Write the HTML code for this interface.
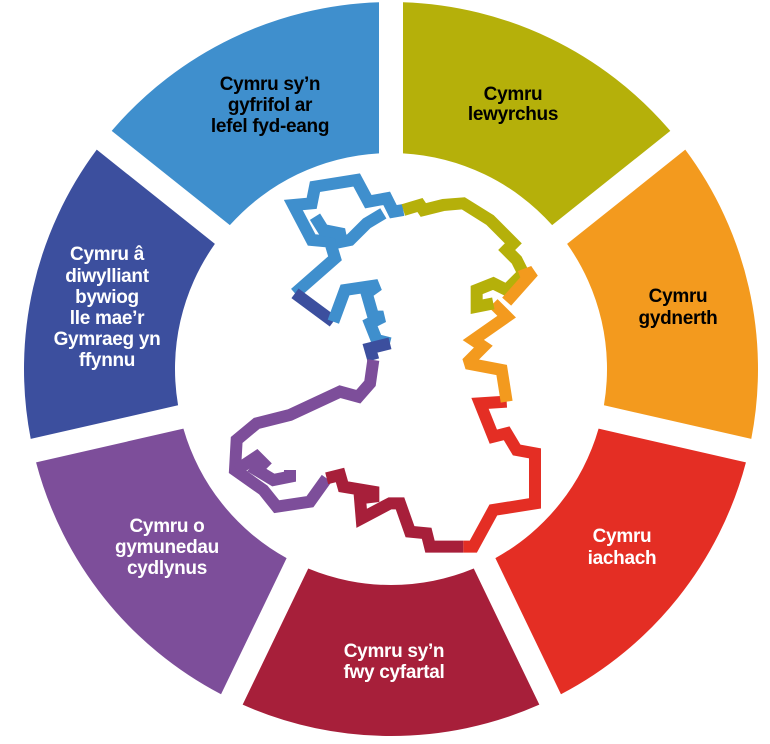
<!DOCTYPE html>
<html><head><meta charset="utf-8"><style>
html,body{margin:0;padding:0;background:#fff;width:770px;height:744px;overflow:hidden}
svg text{font-family:"Liberation Sans Narrow","Liberation Sans",sans-serif;font-weight:bold;font-size:19px;text-anchor:middle;letter-spacing:-0.3px}
</style></head><body>
<svg id="s" width="770" height="744" viewBox="0 0 770 744" xmlns="http://www.w3.org/2000/svg">
<g id="ring"></g>
<g transform="translate(230,170) scale(0.33333)" fill="none" stroke-width="36" stroke-linejoin="miter" stroke-miterlimit="2" stroke-linecap="butt">
<polyline stroke="#3f8fcd" points="520,120 490,125 470,85 415,95 380,30 255,50 245,100 190,105 245,210 300,215 315,265 195,370"/>
<polyline stroke="#3f8fcd" points="255,140 280,180 330,190 335,215 360,210 410,160 460,130"/>
<polyline stroke="#3c4f9e" points="195,370 310,455"/>
<polyline stroke="#3f8fcd" points="310,455 345,360 445,345 410,370 430,440 460,440 420,460 440,510 480,520"/>
<polyline stroke="#3c4f9e" points="480,520 420,535 430,570"/>
<polyline stroke="#7d4e9a" points="430,570 420,640 385,680 330,665 180,735 80,760 20,810 15,900 100,960 140,1010 240,995 290,925"/>
<polyline stroke="#7d4e9a" points="20,900 80,860 100,880 80,900 130,930 180,920 180,900"/>
<polyline stroke="#a71f3a" points="290,925 330,915 340,950 430,965 430,980 390,985 395,1045 480,1000 510,1000 540,1085 590,1090 600,1130 700,1130"/>
<polyline stroke="#e42e24" points="700,1130 730,1130 790,1020 915,1000 915,850 860,840 830,790 790,800 750,700 830,695"/>
<polyline stroke="#f39a1e" points="830,695 815,600 710,580 760,530 730,510 830,440 790,400"/>
<polyline stroke="#b5b00a" points="790,400 740,410 740,360 790,340 830,360 880,310 860,270 830,240 850,220 780,150 700,100 640,105 580,120 570,105 520,120"/>
<polyline stroke="#f39a1e" points="870,320 910,305 830,395"/>
</g>
<g fill="#000">
<text x="270" y="90">Cymru sy’n</text><text x="270" y="111">gyfrifol ar</text><text x="270" y="132">lefel fyd-eang</text>
<text x="513" y="100">Cymru</text><text x="513" y="120">lewyrchus</text>
<text x="678" y="302">Cymru</text><text x="678" y="324">gydnerth</text>
</g>
<g fill="#fff">
<text x="622" y="542">Cymru</text><text x="622" y="564">iachach</text>
<text x="394" y="657">Cymru sy’n</text><text x="394" y="678">fwy cyfartal</text>
<text x="167" y="532">Cymru o</text><text x="167" y="553">gymunedau</text><text x="167" y="574">cydlynus</text>
<text x="107" y="260">Cymru â</text><text x="107" y="282">diwylliant</text><text x="107" y="303">bywiog</text><text x="107" y="324">lle mae’r</text><text x="107" y="345">Gymraeg yn</text><text x="107" y="366">ffynnu</text>
</g>
</svg>
<script>
(function(){
var cx=391,cy=369,R=367,r=216,g=12;
var cols=["#b5b00a","#f39a1e","#e42e24","#a71f3a","#7d4e9a","#3c4f9e","#3f8fcd"];
var ring=document.getElementById("ring");
function pt(a,rad){return [cx+rad*Math.sin(a),cy-rad*Math.cos(a)];}
var step=2*Math.PI/7,h="";
for(var i=0;i<7;i++){
 var a0=i*step,a1=(i+1)*step;
 var oo=g/R,io=g/r;
 var p1=pt(a0+oo,R),p2=pt(a1-oo,R),p3=pt(a1-io,r),p4=pt(a0+io,r);
 var d="M"+p1+" A"+R+","+R+" 0 0 1 "+p2+" L"+p3+" A"+r+","+r+" 0 0 0 "+p4+" Z";
 h+='<path fill="'+cols[i]+'" d="'+d+'"/>';
}
ring.innerHTML=h;
})();
</script>
</body></html>
